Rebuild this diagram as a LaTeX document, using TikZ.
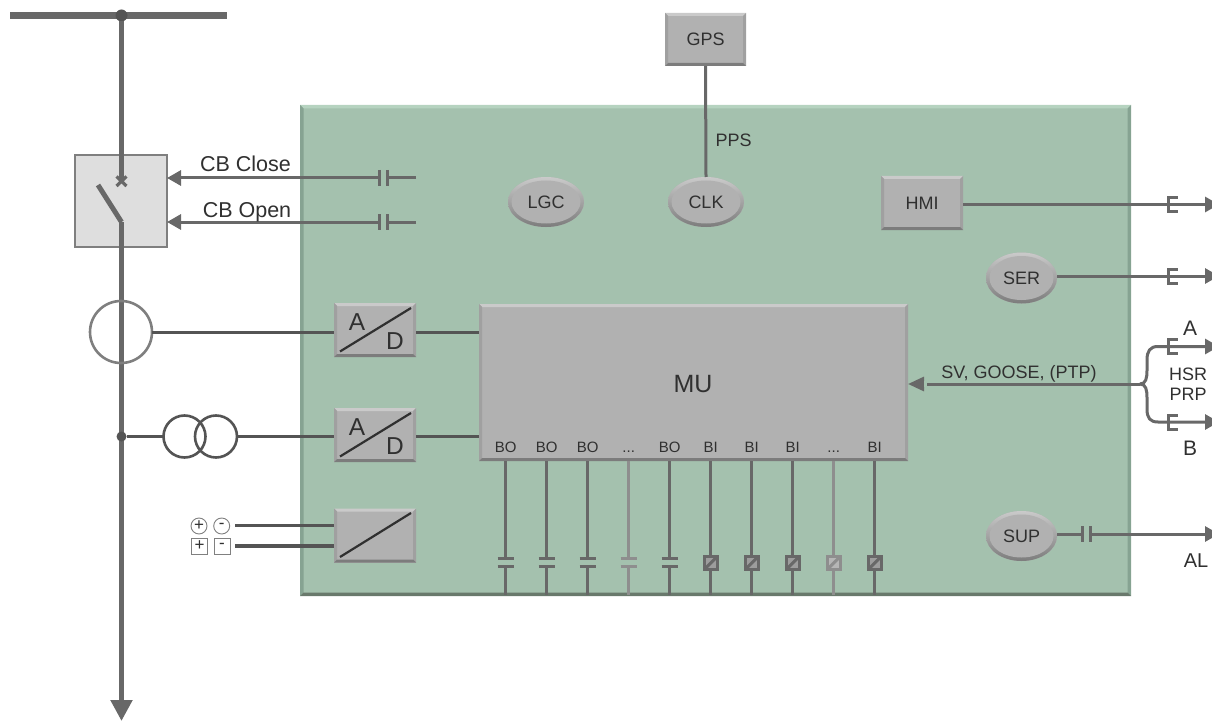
\documentclass[tikz,border=0pt]{standalone}
\usepackage{fontspec}
\setmainfont{Liberation Sans}
\usetikzlibrary{arrows.meta,shapes.geometric,calc}
\definecolor{panelc}{HTML}{A4C1AE}
\definecolor{panelL}{HTML}{B6D3C0}
\definecolor{panelS}{HTML}{86A392}
\definecolor{panelD}{HTML}{69796C}
\definecolor{greyc}{HTML}{B1B1B1}
\definecolor{greyL}{HTML}{CACACA}
\definecolor{greyS}{HTML}{A0A0A0}
\definecolor{greyD}{HTML}{7C7C7C}
\definecolor{wire}{HTML}{686868}
\definecolor{darkwire}{HTML}{545454}
\definecolor{palewire}{HTML}{8E8E8E}
\definecolor{txt}{HTML}{303030}
\newcommand{\pbb}{path picture bounding box}
\newcommand{\bevelfaces}[5]{%
  \fill[#1] (\pbb.north west) -- (\pbb.north east) -- ([xshift=-#5,yshift=-#5]\pbb.north east) -- ([xshift=#5,yshift=-#5]\pbb.north west) -- cycle;
  \fill[#2] (\pbb.north west) -- (\pbb.south west) -- ([xshift=#5,yshift=#5]\pbb.south west) -- ([xshift=#5,yshift=-#5]\pbb.north west) -- cycle;
  \fill[#3] (\pbb.north east) -- (\pbb.south east) -- ([xshift=-#5,yshift=#5]\pbb.south east) -- ([xshift=-#5,yshift=-#5]\pbb.north east) -- cycle;
  \fill[#4] (\pbb.south west) -- (\pbb.south east) -- ([xshift=-#5,yshift=#5]\pbb.south east) -- ([xshift=#5,yshift=#5]\pbb.south west) -- cycle;}
\tikzset{
  x=1pt,y=-1pt,
  every node/.style={inner sep=0pt,outer sep=0pt,text=txt},
  panelbox/.style={rectangle,fill=panelc,minimum width=831pt,minimum height=491pt,
    path picture={\bevelfaces{panelL}{panelS}{panelS}{panelD}{3.5pt}}},
  greybox/.style={rectangle,fill=greyc,font=\fontsize{18}{18}\selectfont,
    path picture={\bevelfaces{greyL}{greyS}{greyS}{greyD}{3pt}}},
  adbox/.style={greybox,minimum width=82pt,minimum height=54pt},
  greyoval/.style 2 args={ellipse,minimum width=#1pt,minimum height=#2pt,fill=greyc,font=\fontsize{18}{18}\selectfont,
    path picture={\shade[top color=greyL,middle color=greyL!50!greyD,bottom color=greyD] (\pbb.north west) rectangle (\pbb.south east);
      \fill[greyc] (\pbb.center) ellipse ({#1/2-3.5} and {#2/2-3.5});}},
  wireline/.style={draw=wire,line width=3pt},
  thickwire/.style={draw=wire,line width=5pt},
  vtwire/.style={draw=darkwire,line width=3pt},
  diag/.style={draw=txt,line width=2.2pt},
  cmdarrow/.style={wireline,-{Triangle[length=14pt,width=15pt]}},
  lab/.style={font=\fontsize{#1}{#1}\selectfont},
  emark/.pic={\draw[draw=wire,line width=3pt] (9,-7)--(0,-7)--(0,7)--(9,7);},
  hcap/.pic={\draw[draw=wire,line width=3pt] (-4,-8)--(-4,8) (4,-8)--(4,8);},
  vcap/.pic={\draw[draw=tick,line width=3pt] (-8,-4)--(8,-4) (-8,4)--(8,4);},
  binsq/.pic={\filldraw[draw=tick,fill=tick!65!white,line width=3pt] (-6.5,-6.5) rectangle (6.5,6.5);
    \draw[draw=tick,line width=3pt] (-6.5,6.5)--(6.5,-6.5);},
  tick/.code={\colorlet{tick}{#1}},
  termc/.style={circle,draw=gray,line width=.9pt,minimum size=16pt,fill=white,font=\fontsize{17}{17}\selectfont},
  terms/.style={rectangle,draw=gray,line width=.9pt,minimum size=16pt,fill=white,font=\fontsize{17}{17}\selectfont},
}
\colorlet{tick}{wire}
\begin{document}
\begin{tikzpicture}
\useasboundingbox (0,0) rectangle (1212,722);
\clip (0,0) rectangle (1212,722);
% panel
\node[panelbox] (panel) at (715.5,350.5) {};
% busbar and switch box
\node[rectangle,fill=wire,minimum width=217pt,minimum height=6.5pt] (busbar) at (118.5,15.5) {};
\node[circle,fill=darkwire,minimum size=12pt] (busdot) at (121.5,15.5) {};
\node[rectangle,draw=wire!85,fill=black!13,line width=2pt,minimum width=92pt,minimum height=92pt] (cb) at (121,201) {};
\coordinate (xmark) at (121.5,181);
\coordinate (bladetop) at (98,185);
\coordinate (bladeend) at (121.5,222);
\coordinate (feeder) at (121.5,721);
\draw[thickwire] (busdot) -- (xmark);
\draw[draw=wire,line width=3.2pt] (116.5,176.5) -- (126.5,186) (126.5,176.5) -- (116.5,186);
\draw[thickwire] (bladetop) -- (bladeend);
\draw[thickwire,-{Triangle[length=21pt,width=21pt]}] (bladeend) -- (feeder);
% CB commands
\coordinate (closeend) at (416,178);
\coordinate (openend) at (416,222);
\coordinate (closecap) at (383,178);
\coordinate (opencap) at (383,222);
\draw[wireline] (closeend) -- (closecap);
\draw[wireline] (openend) -- (opencap);
\draw[cmdarrow] (closecap) -- (closecap -| cb.east);
\draw[cmdarrow] (opencap) -- (opencap -| cb.east);
\fill[panelc] (380,174) rectangle (386,182) (380,218) rectangle (386,226);
\pic at (closecap) {hcap};
\pic at (opencap) {hcap};
\node[lab=21.5,anchor=base] (closelab) at (245.5,172) {CB Close};
\node[lab=21.5,anchor=base] (openlab) at (247,217) {CB Open};
% converters
\node[adbox] (ad1) at (375,330) {};
\node[adbox] (ad2) at (375,435) {};
\node[adbox] (dc) at (375,535.5) {};
\draw[diag] (340,351.5) -- (411,308);
\draw[diag] (340,456.5) -- (411,413);
\draw[diag] (340,557) -- (411,513);
\node[lab=24.5] (a1) at (357,322.5) {A};
\node[lab=24.5] (d1) at (395,341) {D};
\node[lab=24.5] (a2) at (357,427.5) {A};
\node[lab=24.5] (d2) at (395,446) {D};
% CT / VT
\node[circle,draw=wire!85,line width=2.6pt,minimum size=62pt] (ct) at (121,332) {};
\draw[draw=darkwire,line width=3pt] (ct.east) -- (ct.east -| ad1.west);
\node[circle,fill=darkwire,minimum size=10pt] (vtdot) at (121.5,436.5) {};
\node[circle,draw=darkwire,line width=2.6pt,minimum size=42pt] (vt1) at (184.5,436.5) {};
\node[circle,draw=darkwire,line width=2.6pt,minimum size=42pt] (vt2) at (216,436.5) {};
\draw[vtwire] (vtdot) -- (vt1.west);
\draw[vtwire] (vt2.east) -- (vt2.east -| ad2.west);
% DC terminals
\node[termc] (cplus) at (199,526) {+};
\node[termc] (cminus) at (221.7,526) {-};
\node[terms] (splus) at (199.5,546) {+};
\node[terms] (sminus) at (222,546) {-};
\coordinate (cw) at (235,525.5);
\coordinate (sw) at (235,546);
\draw[draw=darkwire,line width=3.4pt] (cw) -- (cw -| dc.west);
\draw[draw=darkwire,line width=3.4pt] (sw) -- (sw -| dc.west);
% MU
\node[greybox,minimum width=429pt,minimum height=157pt] (mu) at (693.5,382.5) {};
\node[lab=25] (mulabel) at (693,384) {MU};
\draw[draw=darkwire,line width=3pt] (ad1.east |- 0,332) -- (mu.west |- 0,332);
\draw[draw=darkwire,line width=3pt] (ad2.east |- 0,436.5) -- (mu.west |- 0,436.5);
% GPS, clock etc
\node[greybox,minimum width=81pt,minimum height=53pt] (gps) at (705.5,39.5) {GPS};
\node[greyoval={76}{50}] (lgc) at (546,202) {LGC};
\node[greyoval={76}{50}] (clk) at (706,202) {CLK};
\node[greybox,minimum width=82pt,minimum height=54pt] (hmi) at (922,203) {HMI};
\node[greyoval={71}{51}] (ser) at (1021.5,278) {SER};
\node[greyoval={71}{50}] (sup) at (1021.5,536) {SUP};
\draw[wireline] (gps.south) -- (clk.north);
\node[lab=18] (pps) at (733.5,140) {PPS};
% right-hand outputs
\coordinate (hmiout) at (1219,204.5);
\coordinate (serout) at (1219,276);
\coordinate (aout) at (1219,346.5);
\coordinate (bout) at (1219,422);
\coordinate (supout) at (1219,534);
\coordinate (junction) at (1140,384);
\coordinate (supcap) at (1086,534);
\draw[cmdarrow] (hmi.east |- hmiout) -- (hmiout);
\draw[cmdarrow] (ser.east |- serout) -- (serout);
\draw[wireline] (sup.east |- supout) -- (supcap);
\draw[cmdarrow] (supcap) -- (supout);
\fill[panelc] (1083,530) rectangle (1089,538);
\pic at (supcap) {hcap};
\pic at (1168.5,204.5) {emark};
\pic at (1168.5,276) {emark};
\pic at (1168.5,346.5) {emark};
\pic at (1168.5,422) {emark};
\draw[wireline,-{Triangle[length=16pt,width=14pt]}] (junction) -- (mu.east |- junction);
\fill[panelc] (923.5,381) rectangle (926.5,387);
\draw[cmdarrow] (junction) .. controls (1146,384) and (1147,378) .. (1147,370) -- (1147,360) .. controls (1147,351) and (1150,346.5) .. (1158,346.5) -- (aout);
\draw[cmdarrow] (junction) .. controls (1146,384) and (1147,390) .. (1147,398) -- (1147,409) .. controls (1147,418) and (1150,422) .. (1158,422) -- (bout);
\node[lab=18,anchor=base] (svlab) at (1019,378) {SV, GOOSE, (PTP)};
\node[lab=21,anchor=base] (alab) at (1190,335) {A};
\node[lab=21,anchor=base] (blab) at (1190,455) {B};
\node[lab=18,anchor=base] (hsr) at (1188,380.5) {HSR};
\node[lab=18,anchor=base] (prp) at (1188,400.5) {PRP};
\node[lab=20,anchor=base] (allab) at (1196,567) {AL};
% BO / BI columns
\foreach \nm/\xx/\tx/\cl in {o1/505.7/BO/wire,o2/546.7/BO/wire,o3/587.7/BO/wire,o4/628.7/{...}/palewire,o5/669.7/BO/wire}{
  \node[lab=15,anchor=base] (\nm) at (\xx,452.5) {\tx};
  \coordinate (\nm c) at (\xx,562.7);
  \coordinate (\nm b) at (\xx,595);
  \draw[draw=\cl,line width=3pt] (\nm c |- mu.south) -- (\xx,558);
  \draw[draw=\cl,line width=3pt] (\xx,567) -- (\nm b);
  \pic[tick=\cl] at (\nm c) {vcap};
}
\foreach \nm/\xx/\tx/\cl in {i1/710.7/BI/wire,i2/751.7/BI/wire,i3/792.7/BI/wire,i4/833.7/{...}/palewire,i5/874.7/BI/wire}{
  \node[lab=15,anchor=base] (\nm) at (\xx,452.5) {\tx};
  \coordinate (\nm c) at (\xx,563);
  \coordinate (\nm b) at (\xx,595);
  \draw[draw=\cl,line width=3pt] (\nm c |- mu.south) -- (\nm c);
  \draw[draw=\cl,line width=3pt] (\nm c) -- (\nm b);
  \pic[tick=\cl] at (\nm c) {binsq};
}
\end{tikzpicture}
\end{document}
